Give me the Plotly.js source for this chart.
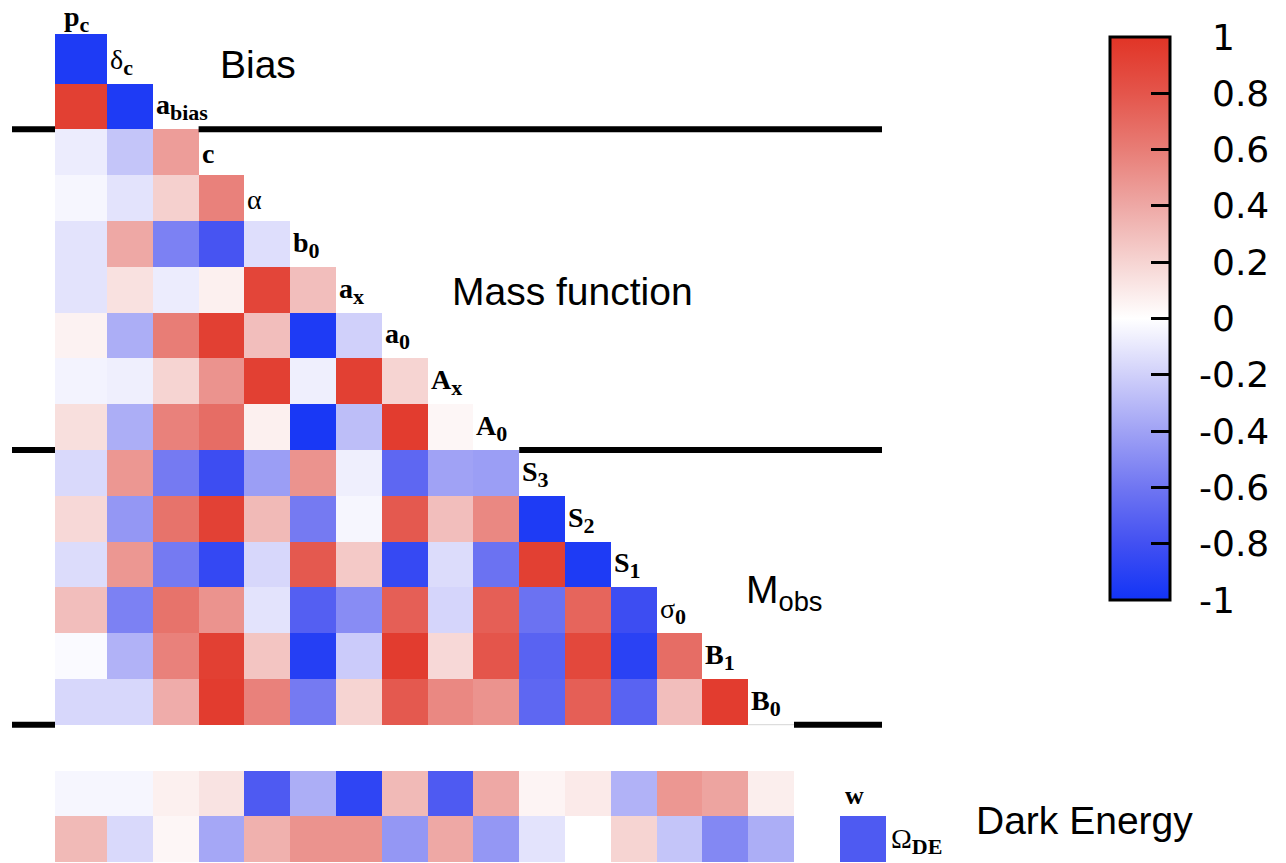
<!DOCTYPE html>
<html>
<head>
<meta charset="utf-8">
<script src="https://cdn.plot.ly/plotly-3.0.1.min.js"></script>
<style>
  html, body { margin: 0; padding: 0; background: #fff; }
  #chart { width: 1286px; height: 863px; }
</style>
</head>
<body>
<div id="chart"></div>
<script>
// ---- Parameters (diagonal labels), in matrix order: symbol and subscript ----
const paramSymbols = ['p', 'δ', 'a', 'c', 'α', 'b', 'a', 'a', 'A', 'A', 'S', 'S', 'S', 'σ', 'B', 'B'];
const paramSubs    = ['c', 'c', 'bias', '', '', '0', 'x', '0', 'x', '0', '3', '2', '1', '0', '1', '0'];
const deSymbols = ['w', 'Ω'];
const deSubs    = ['', 'DE'];

// Parameter groups (number of parameters in each) and their names
const groupSizes = [3, 7, 6];
const groupNames = ['Bias', 'Mass function', 'M<sub>obs</sub>', 'Dark Energy'];

// ---- Correlation coefficients: each row is one parameter against all earlier ones ----
const r_delta_c = [-0.95];
const r_a_bias  = [0.93, -0.95];
const r_c       = [-0.08, -0.25, 0.45];
const r_alpha   = [-0.04, -0.12, 0.22, 0.58];
const r_b0      = [-0.12, 0.40, -0.55, -0.78, -0.14];
const r_ax      = [-0.12, 0.14, -0.08, 0.07, 0.90, 0.30];
const r_a0      = [0.06, -0.35, 0.60, 0.93, 0.30, -0.95, -0.20];
const r_Ax      = [-0.05, -0.07, 0.20, 0.50, 0.93, -0.07, 0.93, 0.20];
const r_A0      = [0.15, -0.35, 0.58, 0.68, 0.07, -0.97, -0.28, 0.95, 0.04];
const r_S3      = [-0.16, 0.48, -0.58, -0.82, -0.42, 0.50, -0.07, -0.68, -0.40, -0.42];
const r_S2      = [0.18, -0.45, 0.65, 0.92, 0.32, -0.58, -0.04, 0.78, 0.30, 0.55, -0.95];
const r_S1      = [-0.15, 0.48, -0.58, -0.86, -0.17, 0.78, 0.25, -0.85, -0.15, -0.62, 0.93, -0.95];
const r_sigma0  = [0.30, -0.55, 0.65, 0.50, -0.12, -0.72, -0.50, 0.75, -0.18, 0.75, -0.62, 0.72, -0.82];
const r_B1      = [-0.02, -0.33, 0.58, 0.93, 0.27, -0.92, -0.22, 0.95, 0.18, 0.80, -0.70, 0.88, -0.90, 0.68];
const r_B0      = [-0.17, -0.17, 0.38, 0.95, 0.58, -0.58, 0.20, 0.78, 0.55, 0.50, -0.68, 0.75, -0.70, 0.30, 0.95];

// Dark energy parameters against all sixteen parameters, and against each other
const r_w       = [-0.04, -0.04, 0.07, 0.13, -0.75, -0.35, -0.88, 0.32, -0.75, 0.40, 0.05, 0.10, -0.33, 0.48, 0.42, 0.08];
const r_OmegaDE = [0.32, -0.16, 0.04, -0.38, 0.36, 0.50, 0.50, -0.45, 0.40, -0.45, -0.12, 0.00, 0.20, -0.25, -0.52, -0.35];
const r_OmegaDE_w = -0.75;

// Colour bar ticks
const cbTickVals = [1, 0.8, 0.6, 0.4, 0.2, 0, -0.2, -0.4, -0.6, -0.8, -1];
const cbTickText = ['1', '0.8', '0.6', '0.4', '0.2', '0', '-0.2', '-0.4', '-0.6', '-0.8', '-1'];

// ---- Page geometry ----
const W = 1286, H = 863;
const CELL = 45.8;          // cell size in px
const COL1_LEFT = 107;      // px of the left edge of column 1
const ROW2_TOP = 129.3;     // px of the top edge of row 2
const COL0_LEFT = 55;       // the first column and row are drawn a little wider
const ROW0_TOP = 34;
const pxToX = p => (p - COL1_LEFT) / CELL + 0.5;
const pxToY = p => (p - ROW2_TOP) / CELL + 1.5;
const px = p => p / W;
const py = p => 1 - p / H;

// ---- Assemble the matrix ----
const triangle = [r_delta_c, r_a_bias, r_c, r_alpha, r_b0, r_ax, r_a0, r_Ax, r_A0,
                  r_S3, r_S2, r_S1, r_sigma0, r_B1, r_B0];
const nP = paramSymbols.length;
const deRow = triangle.length + 1;          // one empty row before the dark energy block
const nRows = deRow + 2;
const nCols = nP + 2;
const z = [];
for (let r = 0; r < nRows; r++) z.push(new Array(nCols).fill(null));
triangle.forEach((row, r) => row.forEach((v, c) => { z[r][c] = v; }));
r_w.forEach((v, c) => { z[deRow][c] = v; });
r_OmegaDE.forEach((v, c) => { z[deRow + 1][c] = v; });
z[deRow + 1][nP + 1] = r_OmegaDE_w;

// Cell edges (index units); first edge widened
const xEdges = Array.from({length: nCols + 1}, (_, i) => i - 0.5);
const yEdges = Array.from({length: nRows + 1}, (_, i) => i - 0.5);
xEdges[0] = pxToX(COL0_LEFT);
yEdges[0] = pxToY(ROW0_TOP);

const colorscale = [
  [0.0, 'rgb(18,52,246)'],
  [0.1, 'rgb(66,80,242)'],
  [0.2, 'rgb(112,118,242)'],
  [0.3, 'rgb(160,162,245)'],
  [0.4, 'rgb(208,208,250)'],
  [0.5, 'rgb(255,255,255)'],
  [0.6, 'rgb(246,212,210)'],
  [0.7, 'rgb(238,168,165)'],
  [0.8, 'rgb(232,125,118)'],
  [0.9, 'rgb(228,85,75)'],
  [1.0, 'rgb(225,52,38)']
];

// Colour bar placement (px)
const CB_LEFT = 1110, CB_TOP = 37, CB_LEN = 563, CB_THICK = 60, CB_DASH = 20;
const cbY = v => CB_TOP + (1 - v) / 2 * CB_LEN;

const trace = {
  type: 'heatmap',
  z: z,
  x: xEdges,
  y: yEdges,
  zmin: -1, zmax: 1,
  colorscale: colorscale,
  hoverongaps: false,
  colorbar: {
    x: px(CB_LEFT), xanchor: 'left', xpad: 0,
    y: py(CB_TOP), yanchor: 'top', ypad: 0,
    len: CB_LEN, lenmode: 'pixels',
    thickness: CB_THICK, thicknessmode: 'pixels',
    outlinewidth: 3, outlinecolor: '#000',
    tickmode: 'array', tickvals: cbTickVals,
    ticks: 'inside', ticklen: CB_DASH, tickwidth: 3, tickcolor: '#000',
    showticklabels: false
  }
};

const serif = 'Liberation Serif, Times New Roman, serif';
const sans = 'Liberation Sans, Arial, Helvetica, sans-serif';
const LABEL_SIZE = 28, SUB_SIZE = 22;

// Greek symbols in regular weight, Latin symbols and all subscripts in bold
const isGreek = s => /[\u0370-\u03ff]/.test(s);
function paramLabel(sym, sub) {
  let t = isGreek(sym) ? sym : '<b>' + sym + '</b>';
  if (sub) t += '<sub><span style="font-size:' + SUB_SIZE + 'px"><b>' + sub + '</b></span></sub>';
  return t;
}

const annotations = [];

// Diagonal parameter labels
paramSymbols.forEach((s, k) => {
  annotations.push({
    xref: 'x', yref: 'y', x: k - 0.5, y: k - 0.5,
    xanchor: 'left', yanchor: 'bottom', xshift: 3,
    yshift: k === 0 ? 1 : (paramSubs[k] ? 4 : 6),
    borderpad: 0, borderwidth: 0,
    text: paramLabel(s, paramSubs[k]), showarrow: false,
    font: {family: serif, size: LABEL_SIZE, color: '#000'}
  });
});
// Dark energy labels
annotations.push({
  xref: 'x', yref: 'y', x: nP + 0.5, y: deRow + 0.5,
  xanchor: 'left', yanchor: 'bottom', xshift: 5, yshift: 6,
  borderpad: 0, borderwidth: 0,
  text: paramLabel(deSymbols[0], deSubs[0]), showarrow: false,
  font: {family: serif, size: 26, color: '#000'}
});
annotations.push({
  xref: 'x', yref: 'y', x: nP + 1.5, y: deRow + 1.5,
  xanchor: 'left', yanchor: 'bottom', xshift: 5, yshift: 3,
  borderpad: 0, borderwidth: 0,
  text: paramLabel(deSymbols[1], deSubs[1]), showarrow: false,
  font: {family: serif, size: LABEL_SIZE, color: '#000'}
});

// Group names
const groupPos = [
  {x: 258, y: 64, anchor: 'center'},
  {x: 572, y: 291, anchor: 'center'},
  {x: 744, y: 592, anchor: 'left'},
  {x: 974, y: 820, anchor: 'left'}
];
groupNames.forEach((t, i) => {
  annotations.push({
    xref: 'paper', yref: 'paper', x: px(groupPos[i].x), y: py(groupPos[i].y),
    xanchor: groupPos[i].anchor, yanchor: 'middle',
    text: t, showarrow: false, font: {family: sans, size: 39, color: '#000'}
  });
});

// Colour bar tick labels (minus sign hangs to the left of the digits)
const CB_LABEL_X = 1210, MINUS_W = 13;
cbTickVals.forEach((v, i) => {
  annotations.push({
    xref: 'paper', yref: 'paper',
    x: px(CB_LABEL_X - (v < 0 ? MINUS_W : 0)), y: py(cbY(v)),
    xanchor: 'left', yanchor: 'middle',
    text: cbTickText[i], showarrow: false,
    font: {family: 'DejaVu Sans, Liberation Sans, sans-serif', size: 36, color: '#000'}
  });
});

// Group separator lines
const shapes = [];
const lineL = pxToX(12), lineR = pxToX(882);
let end = 0;
groupSizes.forEach(n => {
  end += n;
  const yb = end - 1.5;                 // row boundary below the group's last parameter
  shapes.push({type: 'line', xref: 'x', yref: 'y', x0: lineL, x1: xEdges[0], y0: yb, y1: yb,
               line: {color: '#000', width: 6}});
  shapes.push({type: 'line', xref: 'x', yref: 'y', x0: end - 0.5, x1: lineR, y0: yb, y1: yb,
               line: {color: '#000', width: 6}});
});
// faint base under the last label
shapes.push({type: 'line', xref: 'x', yref: 'y', x0: nP - 1.5, x1: nP - 0.5, y0: nP - 1.5, y1: nP - 1.5,
             line: {color: '#d6d6d6', width: 1}});

// Left-side dashes of the colour bar
cbTickVals.filter(v => Math.abs(v) < 1).forEach(v => {
  shapes.push({type: 'line', xref: 'paper', yref: 'paper',
               x0: px(CB_LEFT), x1: px(CB_LEFT + CB_DASH), y0: py(cbY(v)), y1: py(cbY(v)),
               line: {color: '#000', width: 3}});
});

const layout = {
  width: W, height: H, autosize: false,
  margin: {l: 0, r: 0, t: 0, b: 0, pad: 0},
  paper_bgcolor: '#fff', plot_bgcolor: 'rgba(0,0,0,0)',
  showlegend: false,
  xaxis: {range: [pxToX(0), pxToX(W)], visible: false, fixedrange: true},
  yaxis: {range: [pxToY(H), pxToY(0)], visible: false, fixedrange: true},
  annotations: annotations,
  shapes: shapes
};

Plotly.newPlot('chart', [trace], layout, {displayModeBar: false, staticPlot: true});
</script>
</body>
</html>
